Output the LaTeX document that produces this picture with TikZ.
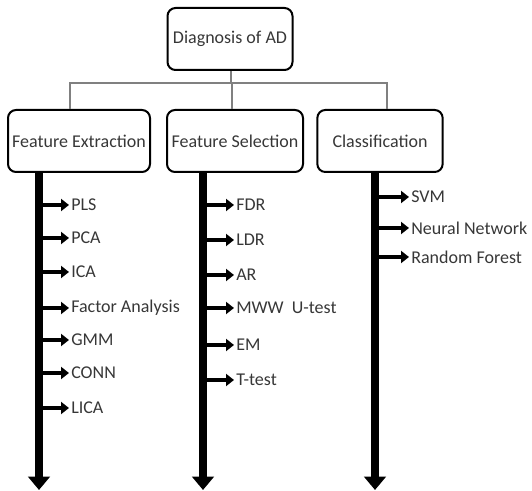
\documentclass[tikz,border=0pt]{standalone}
\usepackage{fontspec}
\setmainfont{Carlito}
\usetikzlibrary{arrows.meta}
\definecolor{textgray}{RGB}{55,55,55}

\begin{document}
\begin{tikzpicture}[x=0.75pt,y=-0.75pt,
    caja/.style={draw, line width=1.5pt, rounded corners=6pt, minimum height=46.5pt,
        inner sep=2pt, text=textgray, font=\fontsize{13.5}{16}\selectfont},
    rama/.style={line width=1pt, black!50},
    tronco/.style={line width=6pt, -{Triangle[width=16pt,length=10pt]}},
    flecha/.style={line width=3.5pt, -{Triangle[width=9pt,length=6pt]}},
    item/.style={anchor=west, inner sep=1.5pt, text=textgray, font=\fontsize{13.5}{16}\selectfont}]

    \useasboundingbox (0,0) rectangle (532,491);

    % Cajas
    \node[caja, minimum width=93.75pt] (diag) at (230,39) {Diagnosis of AD};
    \node[caja, minimum width=106.5pt] (fe) at (79,141) {Feature Extraction};
    \node[caja, minimum width=102pt] (fs) at (235,141) {Feature Selection};
    \node[caja, minimum width=94pt] (cl) at (380,141) {Classification};

    % Arbol
    \coordinate (j) at (231,83);
    \draw[rama] (diag.south -| j) -- (j);
    \draw[rama] (j) -| ([xshift=-6.75pt]fe.north);
    \draw[rama] (j) -| ([xshift=-2.25pt]fs.north);
    \draw[rama] (j) -| ([xshift=5.25pt]cl.north);

    % Troncos
    \coordinate (fe end) at (39,490);
    \coordinate (fs end) at (203,490);
    \coordinate (cl end) at (375,490);
    \draw[tronco] (fe.south -| fe end) -- (fe end);
    \draw[tronco] (fs.south -| fs end) -- (fs end);
    \draw[tronco] (cl.south -| cl end) -- (cl end);

    % Feature Extraction
    \node[item] (pls) at (69,205) {PLS};
    \node[item] (pca) at (69,238) {PCA};
    \node[item] (ica) at (69,272) {ICA};
    \node[item] (fa) at (69,308) {Factor Analysis};
    \node[item] (gmm) at (69,340) {GMM};
    \node[item] (conn) at (69,373) {CONN};
    \node[item] (lica) at (69,408) {LICA};
    \draw[flecha] (pls.west -| fe end) -- (pls.west);
    \draw[flecha] (pca.west -| fe end) -- (pca.west);
    \draw[flecha] (ica.west -| fe end) -- (ica.west);
    \draw[flecha] (fa.west -| fe end) -- (fa.west);
    \draw[flecha] (gmm.west -| fe end) -- (gmm.west);
    \draw[flecha] (conn.west -| fe end) -- (conn.west);
    \draw[flecha] (lica.west -| fe end) -- (lica.west);

    % Feature Selection
    \node[item] (fdr) at (234,205) {FDR};
    \node[item] (ldr) at (234,240) {LDR};
    \node[item] (ar) at (234,275) {AR};
    \node[item] (mww) at (234,308) {MWW\ \ U-test};
    \node[item] (em) at (234,345) {EM};
    \node[item] (tt) at (234,380) {T-test};
    \draw[flecha] (fdr.west -| fs end) -- (fdr.west);
    \draw[flecha] (ldr.west -| fs end) -- (ldr.west);
    \draw[flecha] (ar.west -| fs end) -- (ar.west);
    \draw[flecha] (mww.west -| fs end) -- (mww.west);
    \draw[flecha] (em.west -| fs end) -- (em.west);
    \draw[flecha] (tt.west -| fs end) -- (tt.west);

    % Classification
    \node[item] (svm) at (409,197) {SVM};
    \node[item] (nn) at (409,228) {Neural Network};
    \node[item] (rf) at (409,257) {Random Forest};
    \draw[flecha] (svm.west -| cl end) -- (svm.west);
    \draw[flecha] (nn.west -| cl end) -- (nn.west);
    \draw[flecha] (rf.west -| cl end) -- (rf.west);

\end{tikzpicture}
\end{document}
